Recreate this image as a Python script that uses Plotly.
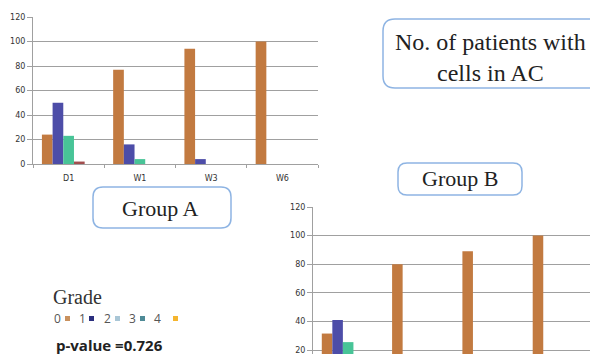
import plotly.graph_objects as go

W, H = 590, 354

# ---- data -------------------------------------------------------------
categories = ["D1", "W1", "W3", "W6"]
grades = ["0", "1", "2", "3", "4"]

group_a_g0 = [24, 77, 94, 100]
group_a_g1 = [50, 16, 4, 0]
group_a_g2 = [23, 4, 0, 0]
group_a_g3 = [2, 0, 0, 0]
group_a_g4 = [0, 0, 0, 0]

group_b_g0 = [31.5, 80, 89, 100]
group_b_g1 = [41, 14, 9, 0]
group_b_g2 = [25.5, 6, 2, 0]
group_b_g3 = [2, 0, 0, 0]
group_b_g4 = [0, 0, 0, 0]

y_ticks = [0, 20, 40, 60, 80, 100, 120]

bar_colors = ["#C27A40", "#4D4DA8", "#48C497", "#A24E4E", "#F0B030"]
key_colors = ["#C9915E", "#2B2F7E", "#A9C6D6", "#4E8A96", "#F5B52E"]

group_a = [group_a_g0, group_a_g1, group_a_g2, group_a_g3, group_a_g4]
group_b = [group_b_g0, group_b_g1, group_b_g2, group_b_g3, group_b_g4]


def px(x):
    return x / W


def py(y):
    return 1 - y / H


fig = go.Figure()

for i, vals in enumerate(group_a):
    fig.add_trace(go.Bar(x=categories, y=vals, name=grades[i],
                         marker=dict(color=bar_colors[i], line=dict(width=0)),
                         xaxis="x", yaxis="y", showlegend=False))
for i, vals in enumerate(group_b):
    fig.add_trace(go.Bar(x=categories, y=vals, name=grades[i],
                         marker=dict(color=bar_colors[i], line=dict(width=0)),
                         xaxis="x2", yaxis="y2", showlegend=False))

GRID = "#A0A0A0"
TICKFONT = dict(family="DejaVu Sans", size=8, color="#333")


def rounded_rect(x0, y0, x1, y1, r):
    pts = [
        f"M {px(x0 + r)},{py(y0)}",
        f"L {px(x1 - r)},{py(y0)}",
        f"Q {px(x1)},{py(y0)} {px(x1)},{py(y0 + r)}",
        f"L {px(x1)},{py(y1 - r)}",
        f"Q {px(x1)},{py(y1)} {px(x1 - r)},{py(y1)}",
        f"L {px(x0 + r)},{py(y1)}",
        f"Q {px(x0)},{py(y1)} {px(x0)},{py(y1 - r)}",
        f"L {px(x0)},{py(y0 + r)}",
        f"Q {px(x0)},{py(y0)} {px(x0 + r)},{py(y0)} Z",
    ]
    return dict(type="path", xref="paper", yref="paper", path=" ".join(pts),
                line=dict(color="#8EB4E3", width=1.5), fillcolor="white", layer="above")


shapes = [
    rounded_rect(383, 19, 606, 88, 12),
    rounded_rect(93, 187, 231, 228, 10),
    rounded_rect(398, 163, 522, 195, 9),
]

# colour key squares
key_sq_x = [65, 89, 115, 140, 173]
for xk, c in zip(key_sq_x, key_colors):
    shapes.append(dict(type="rect", xref="paper", yref="paper",
                       x0=px(xk), x1=px(xk + 5), y0=py(321), y1=py(316),
                       fillcolor=c, line=dict(width=0)))

SERIF = "Liberation Serif"
annotations = [
    dict(text="No. of patients with<br>cells in AC", x=px(490), y=py(57), xanchor="center",
         yanchor="middle", font=dict(family=SERIF, size=24, color="#222")),
    dict(text="Group A", x=px(160), y=py(208), xanchor="center", yanchor="middle",
         font=dict(family=SERIF, size=22, color="#222")),
    dict(text="Group B", x=px(460), y=py(179), xanchor="center", yanchor="middle",
         font=dict(family=SERIF, size=22, color="#222")),
    dict(text="Grade", x=px(51), y=py(297), xanchor="left", yanchor="middle",
         font=dict(family=SERIF, size=20, color="#333")),
    dict(text="p-value =0.726", x=px(54), y=py(345), xanchor="left", yanchor="middle",
         font=dict(family="Open Sans", size=15, color="#222", weight="bold")),
]
key_txt_x = [52, 77, 102, 127, 152]
for xk, g in zip(key_txt_x, grades):
    annotations.append(dict(text=g, x=px(xk), y=py(318), xanchor="left", yanchor="middle",
                            font=dict(family="Open Sans", size=12, color="#555")))

for a in annotations:
    a.update(xref="paper", yref="paper", showarrow=False)

fig.update_layout(
    width=W, height=H,
    margin=dict(l=0, r=0, t=0, b=0),
    paper_bgcolor="white", plot_bgcolor="white",
    template="none",
    barmode="group", bargap=0.25, bargroupgap=0,
    xaxis=dict(domain=[px(33), px(318)], anchor="y", type="category",
               range=[-0.5, 3.5], showgrid=False, zeroline=False,
               showline=True, linecolor=GRID, linewidth=1,
               ticks="outside", tickson="boundaries", ticklen=3, tickcolor=GRID,
               tickfont=TICKFONT, ticklabelstandoff=6, automargin=False),
    yaxis=dict(domain=[py(164), py(17)], anchor="x", range=[0, 120],
               tickvals=y_ticks, showgrid=True, gridcolor=GRID, gridwidth=1,
               zeroline=False, showline=True, linecolor=GRID, linewidth=1,
               ticks="outside", ticklen=5, tickcolor=GRID,
               tickfont=TICKFONT, automargin=False),
    xaxis2=dict(domain=[px(313), 1.0], anchor="y2", type="category",
                range=[-0.5, 3.44], showgrid=False, zeroline=False,
                showline=False, showticklabels=False, ticks="", automargin=False),
    yaxis2=dict(domain=[0, py(207)], anchor="x2", range=[17.2, 120],
                tickvals=y_ticks, showgrid=True, gridcolor=GRID, gridwidth=1,
                zeroline=False, showline=True, linecolor=GRID, linewidth=1,
                ticks="outside", ticklen=5, tickcolor=GRID,
                tickfont=TICKFONT, automargin=False,
                ticklabeloverflow="allow"),
    shapes=shapes,
    annotations=annotations,
)

fig.write_html("out.html")
